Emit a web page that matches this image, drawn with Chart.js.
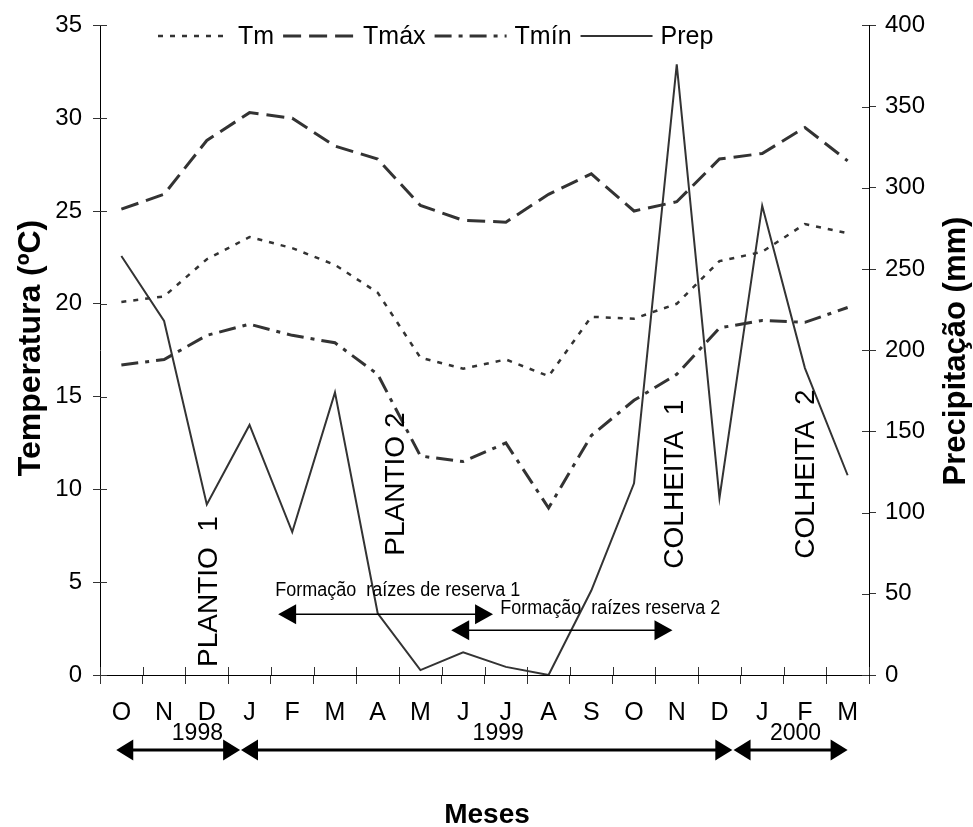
<!DOCTYPE html>
<html>
<head>
<meta charset="utf-8">
<script src="https://cdn.jsdelivr.net/npm/chart.js@4.4.0/dist/chart.umd.min.js"></script>
<style>
body{margin:0;background:#fff;}
#caja{width:973px;height:827px;}
</style>
</head>
<body>
<div id="caja"><canvas id="grafica-clima" width="973" height="827"></canvas></div>
<script>
var meses=["O","N","D","J","F","M","A","M","J","J","A","S","O","N","D","J","F","M"];
var tm=[20.1,20.4,22.4,23.6,23.0,22.1,20.6,17.1,16.5,17.0,16.1,19.3,19.2,20.0,22.3,22.8,24.3,23.8];
var tmax=[25.1,25.9,28.8,30.3,30.0,28.5,27.8,25.3,24.5,24.4,25.9,27.0,25.0,25.5,27.8,28.1,29.5,27.7];
var tmin=[16.7,17.0,18.3,18.9,18.3,17.9,16.2,11.8,11.5,12.5,9.0,12.9,14.8,16.2,18.7,19.1,19.0,19.8];
var prep=[258,218,105,154,88,174,38,3,14,5,0,52,118,376,109,289,189,123];
var ticksTemp=[0,5,10,15,20,25,30,35];
var ticksPrep=[0,50,100,150,200,250,300,350,400];

// anos: texto, inicio y fin (indice de mes), posicion del texto
var anos=["1998","1999","2000"];
var anosDesde=[-0.12,2.80,14.33];
var anosHasta=[2.78,14.30,17.0];
var anosTexto=[1.78,8.82,15.78];

// eventos verticales: texto, mes, temperatura de base
var eventos=["PLANTIO  1","PLANTIO 2","COLHEITA  1","COLHEITA  2"];
var eventosMes=[2.0,6.39,12.92,15.97];
var eventosBase=[0.43,6.43,5.73,6.27];

// periodos de formacion de raices
var periodos=["Formação  raízes de reserva 1","Formação  raízes reserva 2"];
var periodosDesde=[3.67,7.72];
var periodosHasta=[8.70,12.90];
var periodosNivel=[3.27,2.41];

var fuente="'Liberation Sans', Arial, Helvetica, sans-serif";
Chart.defaults.font.family=fuente;
Chart.defaults.color='#000';

function flecha(ctx,x1,x2,y,grosor,largo,medio){
  ctx.save();
  ctx.strokeStyle='#000';ctx.fillStyle='#000';ctx.lineWidth=grosor;
  ctx.beginPath();ctx.moveTo(x1+largo-1,y);ctx.lineTo(x2-largo+1,y);ctx.stroke();
  ctx.beginPath();ctx.moveTo(x1,y);ctx.lineTo(x1+largo,y-medio);ctx.lineTo(x1+largo,y+medio);ctx.closePath();ctx.fill();
  ctx.beginPath();ctx.moveTo(x2,y);ctx.lineTo(x2-largo,y-medio);ctx.lineTo(x2-largo,y+medio);ctx.closePath();ctx.fill();
  ctx.restore();
}

var extras={
  id:'extras',
  afterDraw:function(chart){
    var ctx=chart.ctx, x=chart.scales.x, y=chart.scales.y, y1=chart.scales.y1, area=chart.chartArea;
    ctx.save();
    // borde superior recortado como en el original
    ctx.fillStyle='#fff';
    ctx.fillRect(0,0,area.left-1,15);
    ctx.fillRect(area.right+2,0,chart.width-area.right,15);
    // marcas hacia dentro
    ctx.strokeStyle='#333';ctx.lineWidth=1;
    ctx.beginPath();
    ticksTemp.forEach(function(v){var p=Math.round(y.getPixelForValue(v))+0.5;ctx.moveTo(area.left,p);ctx.lineTo(area.left+7,p);});
    ticksPrep.forEach(function(v){var p=Math.round(y1.getPixelForValue(v))+0.5;ctx.moveTo(area.right,p);ctx.lineTo(area.right-7,p);});
    for(var i=0;i<=meses.length;i++){var p=Math.round(x.getPixelForValue(i-0.5))+0.5;ctx.moveTo(p,area.bottom);ctx.lineTo(p,area.bottom-8);}
    ctx.stroke();

    // leyenda
    var lx=158, ly=36;
    ctx.font='25px '+fuente;ctx.textBaseline='middle';ctx.textAlign='left';
    chart.data.datasets.forEach(function(ds){
      ctx.save();
      ctx.strokeStyle=ds.borderColor;ctx.lineWidth=ds.borderWidth;ctx.setLineDash(ds.borderDash||[]);
      ctx.beginPath();ctx.moveTo(lx,ly);ctx.lineTo(lx+72,ly);ctx.stroke();
      ctx.restore();
      lx+=80;
      ctx.fillStyle='#000';ctx.fillText(ds.label,lx,ly+1);
      lx+=ctx.measureText(ds.label).width+9;
    });

    // eventos verticales
    ctx.font='28px '+fuente;ctx.fillStyle='#000';
    eventos.forEach(function(t,i){
      ctx.save();
      ctx.translate(x.getPixelForValue(eventosMes[i])+10,y.getPixelForValue(eventosBase[i]));
      ctx.rotate(-Math.PI/2);
      ctx.textAlign='left';ctx.textBaseline='alphabetic';
      ctx.fillText(t,0,0);
      ctx.restore();
    });

    // periodos
    ctx.font='20px '+fuente;ctx.textAlign='left';ctx.textBaseline='middle';
    periodos.forEach(function(t,i){
      var a=x.getPixelForValue(periodosDesde[i]), b=x.getPixelForValue(periodosHasta[i]), py=y.getPixelForValue(periodosNivel[i]);
      flecha(ctx,a,b,py,1.6,18,10);
    });
    ctx.fillText(periodos[0],x.getPixelForValue(3.60),590,245);
    ctx.fillText(periodos[1],x.getPixelForValue(8.87),608,220);

    // anos
    anos.forEach(function(t,i){
      flecha(ctx,x.getPixelForValue(anosDesde[i]),x.getPixelForValue(anosHasta[i]),750,3,17,10.5);
      ctx.font='23px '+fuente;ctx.textAlign='center';ctx.textBaseline='middle';ctx.fillStyle='#000';
      ctx.fillText(t,x.getPixelForValue(anosTexto[i]),734);
    });

    // titulos
    ctx.font='bold 32px '+fuente;ctx.textAlign='center';ctx.textBaseline='alphabetic';
    ctx.save();ctx.translate(40,348);ctx.rotate(-Math.PI/2);ctx.fillText('Temperatura (ºC)',0,0);ctx.restore();
    ctx.font='bold 31px '+fuente;
    ctx.save();ctx.translate(965,351);ctx.rotate(-Math.PI/2);ctx.fillText('Precipitação (mm)',0,0);ctx.restore();
    ctx.font='bold 28px '+fuente;
    ctx.fillText('Meses',487,823);
    ctx.restore();
  }
};

var contexto=document.getElementById("grafica-clima");
var grafica=new Chart(contexto,{
  type:"line",
  data:{
    labels:meses,
    datasets:[
      {label:"Tm",data:tm,yAxisID:'y',borderColor:'#333',borderWidth:2.5,borderDash:[5,7]},
      {label:"Tmáx",data:tmax,yAxisID:'y',borderColor:'#333',borderWidth:3,borderDash:[18,8]},
      {label:"Tmín",data:tmin,yAxisID:'y',borderColor:'#333',borderWidth:3,borderDash:[17,7,4,7]},
      {label:"Prep",data:prep,yAxisID:'y1',borderColor:'#333',borderWidth:2}
    ]
  },
  options:{
    responsive:false,
    animation:false,
    devicePixelRatio:1,
    layout:{padding:{top:22,left:0,right:0,bottom:0}},
    elements:{point:{radius:0},line:{tension:0,fill:false}},
    plugins:{legend:{display:false},tooltip:{enabled:false}},
    scales:{
      x:{
        offset:true,
        grid:{offset:true,drawOnChartArea:false,tickLength:9,color:'#333'},
        border:{color:'#000',width:1},
        ticks:{font:{size:25},padding:14,maxRotation:0,autoSkip:false},
        afterFit:function(s){s.height=152;}
      },
      y:{
        position:'left',min:0,max:35,
        grid:{drawOnChartArea:false,tickLength:7,color:'#333'},
        border:{color:'#000',width:1},
        ticks:{font:{size:24},padding:11},
        afterBuildTicks:function(s){s.ticks=ticksTemp.map(function(v){return {value:v};});},
        afterFit:function(s){s.width=100;}
      },
      y1:{
        position:'right',min:0,max:400,
        grid:{drawOnChartArea:false,tickLength:7,color:'#333'},
        border:{color:'#000',width:1},
        ticks:{font:{size:24},padding:9},
        afterBuildTicks:function(s){s.ticks=ticksPrep.map(function(v){return {value:v};});},
        afterFit:function(s){s.width=104;}
      }
    }
  },
  plugins:[extras]
});
</script>
</body>
</html>
